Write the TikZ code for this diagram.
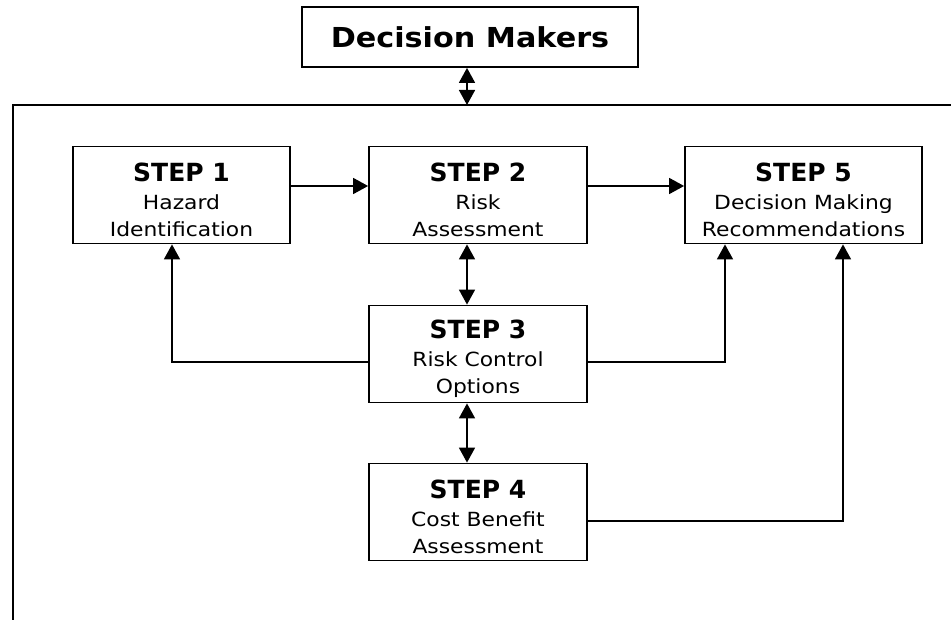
\documentclass[tikz,border=0pt]{standalone}
\usepackage{fontspec}
\setmainfont{DejaVu Sans}
\newfontfamily\widefont[FakeStretch=1.12]{DejaVu Sans}
\newfontfamily\titlefont[FakeStretch=1.1]{DejaVu Sans Bold}
\usepackage{tikz}
\usetikzlibrary{shapes,arrows,positioning,calc,arrows.meta}

\tikzset{
    stepbox/.style={draw, line width=1.8pt, minimum width=218pt, minimum height=97pt,
        align=center, inner sep=0pt, font=\widefont\fontsize{19.5}{26.5}\selectfont},
    link/.style={line width=1.6pt, -{Triangle[length=15pt,width=16pt]}},
    twoway/.style={line width=1.6pt, {Triangle[length=15pt,width=16pt]}-{Triangle[length=15pt,width=16pt]}}
}
\newcommand{\steptitle}[1]{{\normalfont\fontsize{25}{28}\selectfont\bfseries\rule{0pt}{28pt}#1}\\[2pt]}

\begin{document}
\begin{tikzpicture}[x=1pt,y=-1pt]
    \useasboundingbox (0,0) rectangle (951,620);

    \node (dm) at (470,37) [draw, line width=1.8pt, minimum width=336pt, minimum height=60pt,
        font=\titlefont\fontsize{27.5}{30}\selectfont] {Decision Makers};

    % outer frame, cut off at the right and bottom
    \coordinate (ftl) at (13,105);
    \draw[line width=1.6pt] (13,620) -- (ftl) -- (951,105);

    \node (s1) at (181.5,195) [stepbox, minimum width=217pt] {\steptitle{STEP 1} Hazard\\ Identification};
    \node (s2) at (478,195) [stepbox] {\steptitle{STEP 2} Risk\\ Assessment};
    \node (s5) at (803.5,195) [stepbox, minimum width=237pt] {\steptitle{STEP 5} Decision Making\\ Recommendations};
    \node (s3) at (478,354) [stepbox] {\steptitle{STEP 3} Risk Control\\ Options};
    \node (s4) at (478,512) [stepbox] {\steptitle{STEP 4} Cost Benefit\\ Assessment};

    \coordinate (vx) at (467,0);
    \coordinate (lx) at (172,0);
    \coordinate (rx) at (725,0);
    \coordinate (cx) at (843,0);

    \draw[twoway] (vx |- dm.south) -- (vx |- ftl);
    \draw[link] (s1.east |- 0,186) -- (s2.west |- 0,186);
    \draw[link] (s2.east |- 0,186) -- (s5.west |- 0,186);
    \draw[twoway] (vx |- s2.south) -- (vx |- s3.north);
    \draw[twoway] (vx |- s3.south) -- (vx |- s4.north);

    \draw[link] (s3.west |- 0,362) -| (lx |- s1.south);
    \draw[link] (s3.east |- 0,362) -| (rx |- s5.south);
    \draw[link] (s4.east |- 0,521) -| (cx |- s5.south);
\end{tikzpicture}
\end{document}
